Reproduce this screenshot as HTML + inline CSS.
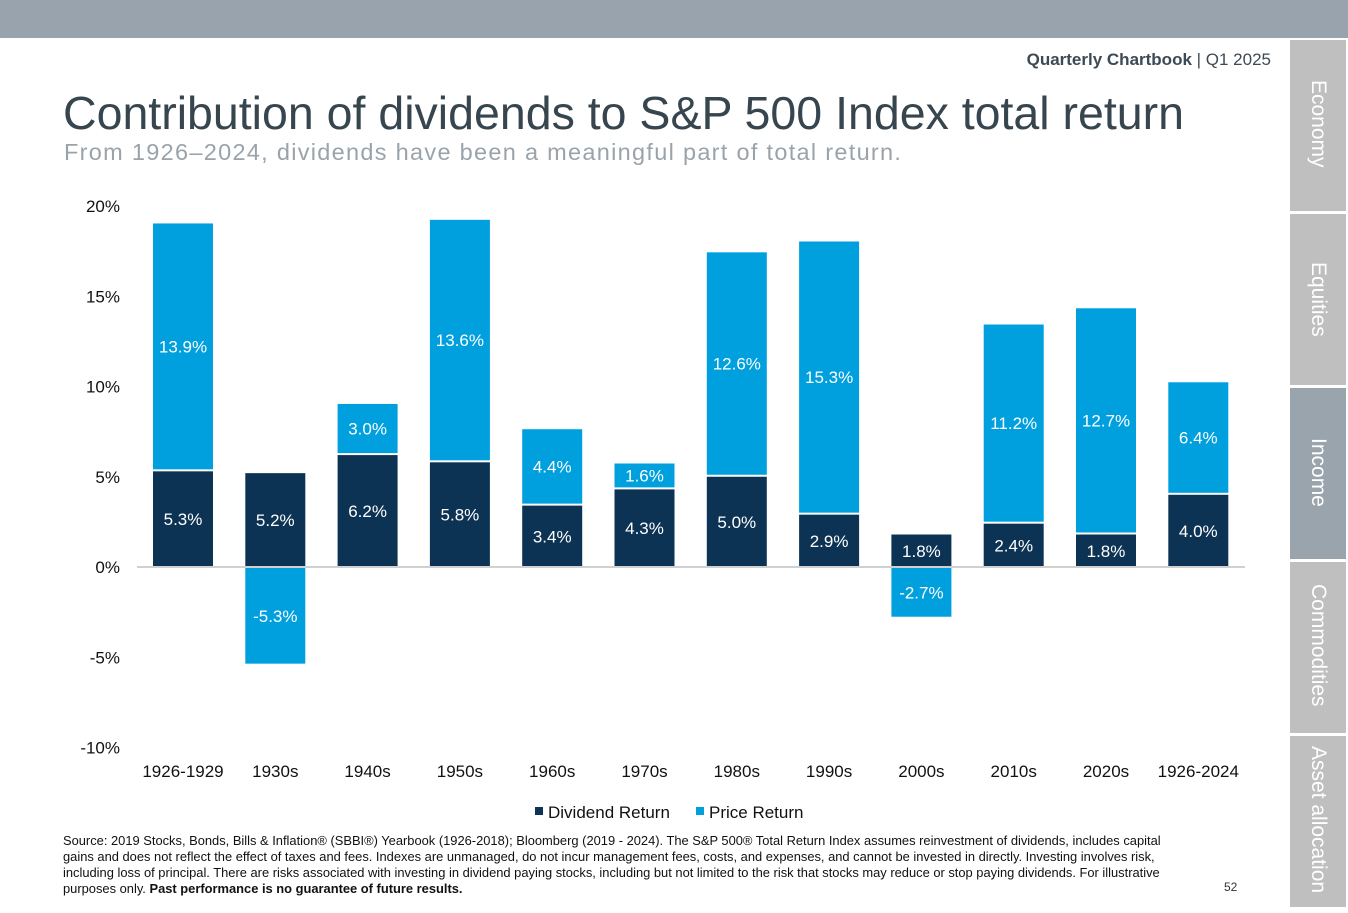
<!DOCTYPE html>
<html><head><meta charset="utf-8"><style>
body{margin:0;width:1348px;height:913px;background:#fff;font-family:"Liberation Sans",sans-serif;position:relative;overflow:hidden}
.topbar{position:absolute;left:0;top:0;width:1348px;height:38px;background:#99a3ad}
.tab{position:absolute;left:1290px;width:56px;height:171px;background:#bfbfbf;color:#fff;font-size:21px;writing-mode:vertical-rl;display:flex;align-items:center;justify-content:flex-start;padding-top:40px;box-sizing:border-box}
.hdr{position:absolute;right:77px;top:50px;font-size:17px;color:#3d4a55}
h1{position:absolute;left:63px;top:86px;margin:0;font-weight:normal;font-size:46.5px;color:#37454f;white-space:nowrap}
.sub{position:absolute;left:64px;top:139px;font-size:23.5px;letter-spacing:1.3px;color:#9aa3aa;white-space:nowrap}
.foot{position:absolute;left:63px;top:833px;width:1130px;font-size:12.9px;line-height:16px;color:#111}
</style></head><body>
<div class="topbar"></div>
<div class="tab" style="top:40px">Economy</div>
<div class="tab" style="top:214px;padding-top:48px">Equities</div>
<div class="tab" style="top:388px;background:#9aa4ad;padding-top:50px">Income</div>
<div class="tab" style="top:562px;padding-top:22px">Commodities</div>
<div class="tab" style="top:736px;padding-top:10px">Asset allocation</div>
<div class="hdr"><b>Quarterly Chartbook</b> | Q1 2025</div>
<h1>Contribution of dividends to S&amp;P 500 Index total return</h1>
<div class="sub">From 1926–2024, dividends have been a meaningful part of total return.</div>
<svg id="chart" width="1290" height="830" style="position:absolute;left:0;top:0"></svg>
<div class="foot">Source: 2019 Stocks, Bonds, Bills &amp; Inflation® (SBBI®) Yearbook (1926-2018); Bloomberg (2019 - 2024). The S&amp;P 500® Total Return Index assumes reinvestment of dividends, includes capital gains and does not reflect the effect of taxes and fees. Indexes are unmanaged, do not incur management fees, costs, and expenses, and cannot be invested in directly. Investing involves risk, including loss of principal. There are risks associated with investing in dividend paying stocks, including but not limited to the risk that stocks may reduce or stop paying dividends. For illustrative purposes only. <b>Past performance is no guarantee of future results.</b></div>
<div style="position:absolute;left:1224px;top:880px;font-size:12px;color:#333">52</div>
<script>
const categories=["1926-1929","1930s","1940s","1950s","1960s","1970s","1980s","1990s","2000s","2010s","2020s","1926-2024"];
const dividendReturn=[5.3,5.2,6.2,5.8,3.4,4.3,5.0,2.9,1.8,2.4,1.8,4.0];
const priceReturn=[13.9,-5.3,3.0,13.6,4.4,1.6,12.6,15.3,-2.7,11.2,12.7,6.4];
const yTicks=[20,15,10,5,0,-5,-10];
const svg=document.getElementById('chart');
const NS='http://www.w3.org/2000/svg';
const y0=567,pxPer=18.05,x0=183,step=92.3,bw=60;
const y=v=>y0-v*pxPer;
const x=i=>x0+i*step;
function mk(t,a,txt){const e=document.createElementNS(NS,t);for(const k in a)e.setAttribute(k,a[k]);if(txt!==undefined)e.textContent=txt;svg.appendChild(e);return e;}
yTicks.forEach(t=>{
 const e=mk('text',{x:120,y:y(t)+6,'text-anchor':'end','font-size':17,fill:'#111','font-family':'Liberation Sans'},t+'%');
 
 
});
categories.forEach((c,i)=>{
 const d=dividendReturn[i],p=priceReturn[i];
 const r1=mk('rect',{x:x(i)-bw/2,y:y(d),width:bw,height:y(0)-y(d),fill:'#0d3354'});
 
 
 let py,ph;
 if(p>=0){py=y(d+p)+3;ph=y(d)-y(d+p)-5;}else{py=y(0)+1;ph=y(p)-y(0);}
 const r2=mk('rect',{x:x(i)-bw/2,y:py,width:bw,height:ph,fill:'#00a0df'});
 
 
 const l1=mk('text',{x:x(i),y:(y(d)+y(0))/2+6,'text-anchor':'middle','font-size':17,fill:'#fff'},d.toFixed(1)+'%');
 
 
 const l2=mk('text',{x:x(i),y:py+ph/2+6,'text-anchor':'middle','font-size':17,fill:'#fff'},p.toFixed(1)+'%');
 
 
 const cl=mk('text',{x:x(i),y:777,'text-anchor':'middle','font-size':17,fill:'#111'},c);
 
 
});
const ax=mk('line',{x1:137,x2:1245,y1:y0,y2:y0,stroke:'#d0d0d0','stroke-width':2});


const lg1=mk('rect',{x:535,y:807,width:8,height:8,fill:'#0d3354'});


const lt1=mk('text',{x:548,y:818,'font-size':17,fill:'#111'},'Dividend Return');


const lg2=mk('rect',{x:696,y:807,width:8,height:8,fill:'#00a0df'});


const lt2=mk('text',{x:709,y:818,'font-size':17,fill:'#111'},'Price Return');


</script>
</body></html>
